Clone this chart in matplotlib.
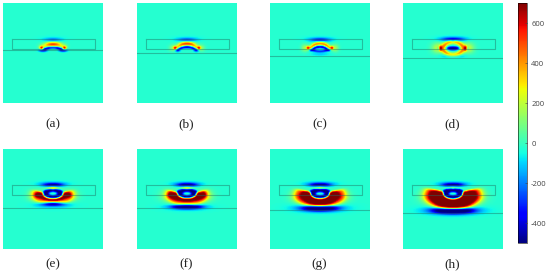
import numpy as np
from matplotlib import pyplot as plt

plt.rcParams["axes.unicode_minus"] = False

# field features, in pixels of the 100 x 100 panel
# blobs: dx from centre (mirrored), y, spread x, spread y, value
# arcs: centre y, radius x, radius y, thickness, value, half angle (deg), side (1 = lower, -1 = upper)
blobs_a = [(0, 37, 8, 1.3, -240), (0, 35.5, 12, 2, -60), (11.5, 45, 1.2, 1.2, 800), (10, 47.3, 3.5, 1.0, -800), (0, 41.5, 8, 2.4, 380), (12, 44, 2.5, 2, 180)]
arcs_a = [(49, 11, 4.5, 0.17, -750, 55, -1), (49, 11, 8, 0.3, 200, 75, -1)]
blobs_b = [(0, 37, 9, 1.4, -300), (0, 35.5, 13, 2, -70), (12, 44.8, 1.2, 1.2, 850), (9.5, 47.5, 2.2, 1.1, -400), (14, 45, 3.5, 3, 180), (0, 41, 7, 1.8, 200)]
arcs_b = [(49, 10, 5, 0.17, -750, 65, -1), (48.5, 10, 8, 0.28, 400, 75, -1)]
blobs_c = [(0, 37, 10, 1.5, -360), (0, 35.5, 14, 2, -80), (12, 44.8, 1.2, 1.3, 900), (15, 45, 3.5, 3.5, 200), (0, 51, 9, 1.5, -100)]
arcs_c = [(48.5, 8.5, 4.8, 0.17, -800, 85, -1), (48.5, 9.5, 8, 0.25, 480, 80, -1), (46, 8.5, 2.2, 0.3, -500, 90, 1)]
blobs_d = [(0, 36.5, 11, 1.5, -450), (0, 35, 15, 2, -100), (12.5, 45.3, 1.2, 2, 900), (14.5, 45.3, 0.9, 1.6, -350), (15, 45, 6, 5, 240), (0, 45.3, 6.5, 1.5, -800), (0, 53, 11, 1.6, -170)]
arcs_d = [(45.3, 9.5, 6.5, 0.3, 430, 180, 1)]
blobs_e = [(0, 36, 10, 1.6, -540), (0, 34.5, 15, 2, -130), (0, 39.5, 5.5, 1.4, 680), (0, 55, 11, 1.6, -650), (0, 56, 17, 3, -170), (15, 46, 3, 2.2, 500), (15, 47, 9, 6, 200)]
arcs_e = [(44.5, 7.5, 3.4, 0.34, -1300, 180, 1), (45, 12, 5.8, 0.26, 850, 105, 1), (45, 17, 9, 0.3, 320, 110, 1)]
blobs_f = [(0, 36, 10, 1.6, -560), (0, 34.5, 15, 2, -130), (0, 39.5, 5.5, 1.4, 700), (0, 57.7, 12.5, 1.8, -800), (0, 58, 19, 3, -220), (15, 46, 3, 2.2, 600), (17, 47, 9, 6, 200)]
arcs_f = [(44.5, 7.5, 3.5, 0.34, -1800, 180, 1), (45, 11, 5.5, 0.42, 1300, 105, 1), (45, 17, 10, 0.28, 360, 110, 1)]
blobs_g = [(0, 36, 10, 1.6, -580), (0, 34.5, 16, 2, -140), (0, 39.5, 5.5, 1.4, 720), (0, 59, 14, 2.5, -950), (0, 59, 23, 3.8, -280), (15, 46, 3, 2.2, 700), (19, 48, 10, 6, 210)]
arcs_g = [(44.5, 7.5, 3.6, 0.34, -2400, 180, 1), (45, 11, 7.5, 0.48, 1800, 105, 1), (45, 21, 12, 0.26, 380, 110, 1)]
blobs_h = [(0, 36, 10, 1.6, -600), (0, 34.5, 16, 2, -140), (0, 39.5, 5.5, 1.4, 740), (0, 61.3, 16, 2.8, -1050), (0, 61.5, 25, 4, -320), (16, 46, 3, 2.2, 750), (21, 48, 11, 6.5, 220)]
arcs_h = [(44.5, 7.5, 3.7, 0.34, -2800, 180, 1), (45, 13, 9.5, 0.5, 2000, 105, 1), (45, 24, 14, 0.25, 400, 110, 1)]

all_blobs = [blobs_a, blobs_b, blobs_c, blobs_d, blobs_e, blobs_f, blobs_g, blobs_h]
all_arcs = [arcs_a, arcs_b, arcs_c, arcs_d, arcs_e, arcs_f, arcs_g, arcs_h]
line_y = [47.3, 49.7, 53, 55, 59, 59, 61, 64]
labels = ["(a)", "(b)", "(c)", "(d)", "(e)", "(f)", "(g)", "(h)"]
colorbar_ticks = [600, 400, 200, 0, -200, -400]
background_value = -25

W, H = 550, 277
panel_left = [3, 137, 270, 403]
panel_top = [3, 149]
label_y = [124, 264]
vmin, vmax = -500, 700


def axes_px(fig, x0, y0, w, h):
    """ Axes from pixel box with y measured from the top of the image """
    return fig.add_axes([x0 / W, 1 - (y0 + h) / H, w / W, h / H])


def soften(field):
    """ Light blur, the reference is a resampled raster """
    kernel = np.array([0.25, 0.5, 0.25])
    field = np.apply_along_axis(lambda row: np.convolve(row, kernel, mode="same"), 1, field)
    return np.apply_along_axis(lambda col: np.convolve(col, kernel, mode="same"), 0, field)


def build_field(blobs, arcs):
    """ Returns the 100 x 100 field summed from the features of one panel """
    y, x = np.mgrid[0:100, 0:100] + 0.5
    field = np.full((100, 100), float(background_value))
    for dx, cy, sx, sy, value in blobs:
        for side in ([1, -1] if dx else [1]):
            field += value * np.exp(-((x - 50 - side * dx) / sx) ** 2 - ((y - cy) / sy) ** 2)
    for cy, rx, ry, thick, value, half, side in arcs:
        u = (x - 50) / rx
        v = (y - cy) / ry
        rho = np.sqrt(u ** 2 + v ** 2)
        angle = np.degrees(np.arctan2(np.abs(u), side * v))
        window = np.clip((half - angle) / 10 + 0.5, 0, 1)
        field += value * np.exp(-((rho - 1) / thick) ** 2) * window
    return soften(np.clip(field, vmin, vmax))


fig = plt.figure(figsize=(W / 100, H / 100), dpi=100)

for i in range(8):
    left = panel_left[i % 4]
    top = panel_top[i // 4]
    ax = axes_px(fig, left, top, 100, 100)
    field = build_field(all_blobs[i], all_arcs[i])
    # convolution pulls the edge cells down, put the background back there
    field[[0, -1], :] = background_value
    field[:, [0, -1]] = background_value
    im = ax.imshow(field, cmap="jet", vmin=vmin, vmax=vmax, extent=(0, 100, 100, 0),
                   interpolation="bilinear", aspect="auto")
    ax.plot([8.5, 91.5, 91.5, 8.5, 8.5], [35.5, 35.5, 45.5, 45.5, 35.5], color="#20705f", lw=0.8, alpha=0.45)
    ax.plot([0, 100], [line_y[i], line_y[i]], color="#20705f", lw=0.8, alpha=0.45)
    ax.set_xlim(0, 100)
    ax.set_ylim(100, 0)
    ax.axis("off")
    fig.text((left + 49.5) / W, 1 - label_y[i // 4] / H, labels[i], family="Liberation Serif", fontsize=9.5,
             color="#222222", ha="center", va="center")

cax = axes_px(fig, 518, 3, 9, 240)
cbar = fig.colorbar(im, cax=cax)
cbar.set_ticks(colorbar_ticks)
cbar.ax.tick_params(length=1.5, width=0.4, labelsize=5.5, pad=3, colors="#444444", direction="in")
for tick in cbar.ax.get_yticklabels():
    tick.set_family("Open Sans")
cbar.outline.set_linewidth(0.4)

fig.savefig("out.png", dpi=100)
